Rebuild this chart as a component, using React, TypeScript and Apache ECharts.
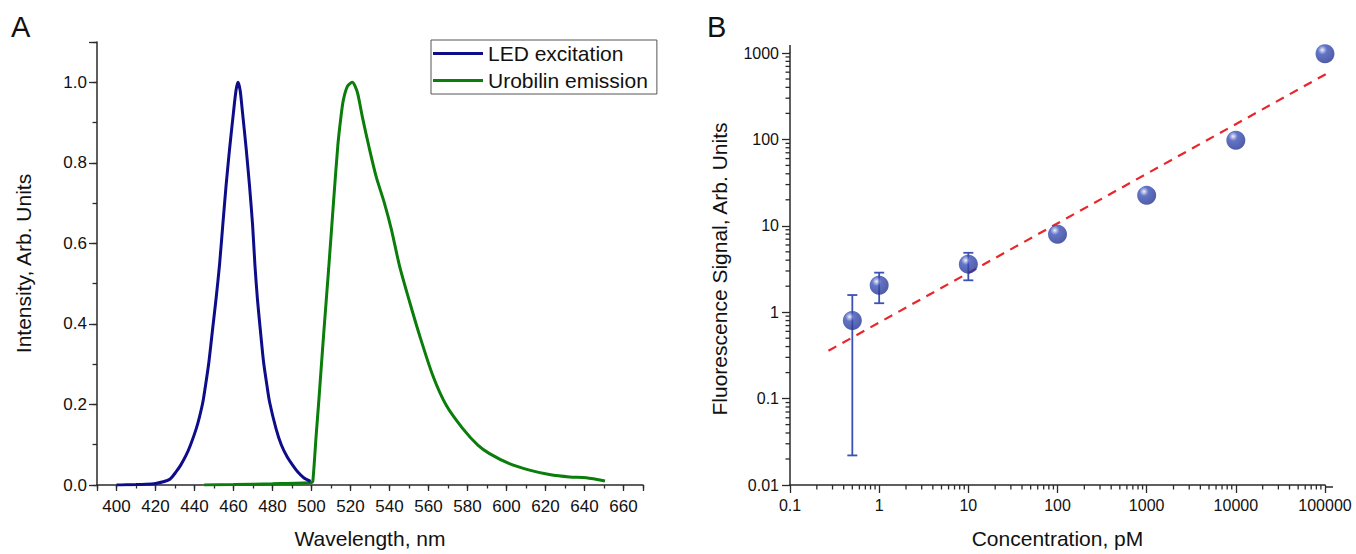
import React, { useEffect, useRef } from "react";
import * as echarts from "echarts";

// ---- Panel A data ----
const ledWavelength = [400, 405, 410, 415, 420, 424, 427.5, 430.6, 433, 435.7, 438, 440.9, 442.6, 444.3, 445.9, 447.4, 449.3, 451.0, 452.8, 454.5, 456.2, 458, 460, 461.3, 462.3, 463.4, 464.6, 466.5, 468.2, 469.8, 471, 472.3, 473.7, 475.4, 477, 478.5, 481.8, 484.5, 487.5, 490.5, 493, 496, 499.5];
const ledIntensity = [0, 0.0005, 0.001, 0.002, 0.004, 0.008, 0.015, 0.033, 0.05, 0.074, 0.1, 0.14, 0.17, 0.206, 0.255, 0.306, 0.388, 0.46, 0.545, 0.645, 0.744, 0.835, 0.926, 0.98, 1.0, 0.98, 0.926, 0.835, 0.744, 0.645, 0.545, 0.46, 0.388, 0.306, 0.252, 0.206, 0.14, 0.1, 0.07, 0.048, 0.032, 0.018, 0.009];

const uroWavelength = [445, 460, 480, 500, 500.7, 502.4, 503.7, 506.2, 508.8, 511.3, 513.5, 515, 516.3, 518.4, 520.9, 522.4, 523.8, 526.3, 529.7, 533.2, 537.2, 540.9, 545.1, 550.3, 555.4, 562.2, 569.1, 577.6, 585.3, 591.3, 601.5, 611.8, 622, 632.3, 640.9, 650.5];
const uroIntensity = [0, 0.001, 0.003, 0.006, 0.01, 0.124, 0.206, 0.372, 0.537, 0.703, 0.843, 0.91, 0.955, 0.99, 1.0, 0.99, 0.97, 0.909, 0.835, 0.765, 0.703, 0.636, 0.545, 0.455, 0.372, 0.272, 0.198, 0.14, 0.099, 0.078, 0.053, 0.037, 0.026, 0.02, 0.018, 0.01];

// ---- Panel B data ----
const concentration = [0.5, 1, 10, 100, 1000, 10000, 100000];
const signal = [0.8, 2.05, 3.6, 8.0, 22.5, 98, 980];
const signalLow = [0.022, 1.27, 2.34, 8.0, 22.5, 98, 980];
const signalHigh = [1.58, 2.87, 4.87, 8.0, 22.5, 98, 980];
const fitX = [0.27, 106000];
const fitY = [0.358, 582];

// minor log ticks (multipliers within each decade)
const minorMultipliers = [2, 3, 4, 5, 6, 7, 8, 9];
const xDecades = [0.1, 1, 10, 100, 1000, 10000];
const yDecades = [0.01, 0.1, 1, 10, 100];

const legendNames = ["LED excitation", "Urobilin emission"];

const FONT = "'Liberation Sans', Arial, Helvetica, sans-serif";
const AXIS = "#2a2a2a";
const TXT = "#111111";
const MINOR_LOG = 4.5;

function logLabel(v: number) {
  return String(Number(v.toPrecision(4)));
}

export default function App() {
  const ref = useRef<HTMLDivElement>(null);
  useEffect(() => {
    if (!ref.current) return;
    const chart = echarts.init(ref.current, undefined, { renderer: "svg" });

    const ledData = ledWavelength.map((w, i) => [w, ledIntensity[i]]);
    const uroData = uroWavelength.map((w, i) => [w, uroIntensity[i]]);
    const pts = concentration.map((c, i) => [c, signal[i]]);
    const errs = concentration.map((c, i) => [c, signal[i], signalLow[i], signalHigh[i]]);
    const fit = fitX.map((x, i) => [x, fitY[i]]);
    const xMinor: number[] = [];
    xDecades.forEach((d) => minorMultipliers.forEach((m) => xMinor.push(Number((d * m).toPrecision(3)))));
    const yMinor: number[] = [];
    yDecades.forEach((d) => minorMultipliers.forEach((m) => yMinor.push(Number((d * m).toPrecision(3)))));

    const tickStyle = { color: AXIS, width: 1.3 };

    const baseGraphic: any[] = [
      { type: "text", left: 11, top: 12, style: { text: "A", fontSize: 29, fill: "#111", fontFamily: FONT } },
      { type: "text", left: 707, top: 12, style: { text: "B", fontSize: 29, fill: "#111", fontFamily: FONT } },
      { type: "line", shape: { x1: 790, y1: 45, x2: 790, y2: 53 }, style: { stroke: AXIS, lineWidth: 1.5 } },
      { type: "line", shape: { x1: 1325, y1: 487, x2: 1333, y2: 487 }, style: { stroke: AXIS, lineWidth: 1.5 } },
    ];

    const option: any = {
      animation: false,
      backgroundColor: "#ffffff",
      textStyle: { fontFamily: FONT },
      grid: [
        { left: 97, top: 42, width: 546, height: 444 },
        { left: 790, top: 53, width: 535, height: 434 },
      ],
      legend: {
        data: legendNames,
        left: 431,
        top: 40,
        orient: "vertical",
        icon: "rect",
        itemWidth: 50,
        itemHeight: 3,
        itemGap: 6,
        padding: [3, 9, 3, 2],
        borderColor: "#555",
        borderWidth: 1,
        selectedMode: false,
        textStyle: { fontSize: 21, color: TXT, fontFamily: FONT },
      },
      xAxis: [
        {
          gridIndex: 0,
          type: "value",
          position: "bottom",
          min: 390,
          max: 670,
          interval: 10,
          axisLine: { lineStyle: { color: AXIS, width: 1.5 } },
          axisTick: { length: 3.5, lineStyle: tickStyle },
          axisLabel: {
            fontSize: 17,
            color: TXT,
            margin: 13,
            formatter: (v: number) => (Math.round(v) % 20 === 0 ? String(v) : ""),
          },
          splitLine: { show: false },
          name: "Wavelength, nm",
          nameLocation: "middle",
          nameGap: 43,
          nameTextStyle: { fontSize: 21, color: TXT },
        },
        {
          gridIndex: 0,
          type: "value",
          position: "bottom",
          min: 390,
          max: 670,
          splitNumber: 14,
          axisLine: { show: false },
          axisTick: { length: 6, lineStyle: tickStyle },
          axisLabel: { show: false },
          splitLine: { show: false },
        },
        {
          gridIndex: 1,
          type: "log",
          logBase: 10,
          position: "bottom",
          min: 0.1,
          max: 100000,
          axisLine: { lineStyle: { color: AXIS, width: 1.5 } },
          axisTick: { length: 8, lineStyle: tickStyle },
          axisLabel: { fontSize: 16, color: TXT, margin: 12, formatter: logLabel },
          splitLine: { show: false },
          name: "Concentration, pM",
          nameLocation: "middle",
          nameGap: 43,
          nameTextStyle: { fontSize: 21, color: TXT },
        },
      ],
      yAxis: [
        {
          gridIndex: 0,
          type: "value",
          position: "left",
          min: 0,
          max: 1.1,
          interval: 0.1,
          axisLine: { show: true, lineStyle: { color: AXIS, width: 1.5 } },
          axisTick: { show: true, length: 4.5, lineStyle: tickStyle },
          axisLabel: {
            fontSize: 17,
            color: TXT,
            margin: 10,
            formatter: (v: number) => {
              const k = Math.round(v * 10);
              return k % 2 === 0 && k <= 10 ? (k / 10).toFixed(1) : "";
            },
          },
          splitLine: { show: false },
          name: "Intensity, Arb. Units",
          nameLocation: "middle",
          nameGap: 63,
          nameTextStyle: { fontSize: 21, color: TXT },
        },
        {
          gridIndex: 0,
          type: "value",
          position: "left",
          min: 0,
          max: 1.1,
          interval: 0.2,
          axisLine: { show: false },
          axisTick: { show: true, length: 8, lineStyle: tickStyle },
          axisLabel: { show: false },
          splitLine: { show: false },
        },
        {
          gridIndex: 1,
          type: "log",
          logBase: 10,
          position: "left",
          min: 0.01,
          max: 1000,
          axisLine: { show: true, lineStyle: { color: AXIS, width: 1.5 } },
          axisTick: { show: true, length: 8, lineStyle: tickStyle },
          axisLabel: { fontSize: 16, color: TXT, margin: 11, formatter: logLabel },
          splitLine: { show: false },
          name: "Fluorescence Signal, Arb. Units",
          nameLocation: "middle",
          nameGap: 60,
          nameTextStyle: { fontSize: 21, color: TXT },
        },
      ],
      series: [
        {
          name: "LED excitation",
          type: "line",
          xAxisIndex: 0,
          yAxisIndex: 0,
          data: ledData,
          symbol: "none",
          smooth: 0.25,
          lineStyle: { color: "#0d0d8a", width: 3 },
          itemStyle: { color: "#0d0d8a" },
          z: 3,
        },
        {
          name: "Urobilin emission",
          type: "line",
          xAxisIndex: 0,
          yAxisIndex: 0,
          data: uroData,
          symbol: "none",
          smooth: 0.25,
          lineStyle: { color: "#0a7d0a", width: 3 },
          itemStyle: { color: "#0a7d0a" },
          z: 2,
        },
        {
          name: "fit",
          type: "line",
          xAxisIndex: 2,
          yAxisIndex: 2,
          data: fit,
          symbol: "none",
          clip: false,
          lineStyle: { color: "#e8262b", width: 2.2, type: [9, 7] },
          z: 2,
        },
        {
          name: "err",
          type: "custom",
          xAxisIndex: 2,
          yAxisIndex: 2,
          data: errs,
          encode: { x: 0, y: [2, 3] },
          z: 3,
          renderItem: (params: any, api: any) => {
            const x = api.value(0);
            if (api.value(3) <= api.value(2)) return null;
            const lo = api.coord([x, api.value(2)]);
            const hi = api.coord([x, api.value(3)]);
            const cap = 5;
            const style = { stroke: "#3b52b4", lineWidth: 1.8 };
            return {
              type: "group",
              children: [
                { type: "line", shape: { x1: lo[0], y1: lo[1], x2: hi[0], y2: hi[1] }, style },
                { type: "line", shape: { x1: lo[0] - cap, y1: lo[1], x2: lo[0] + cap, y2: lo[1] }, style: { ...style } },
                { type: "line", shape: { x1: hi[0] - cap, y1: hi[1], x2: hi[0] + cap, y2: hi[1] }, style: { ...style } },
              ],
            };
          },
        },
        {
          name: "signal",
          type: "scatter",
          xAxisIndex: 2,
          yAxisIndex: 2,
          data: pts,
          symbol: "circle",
          symbolSize: 19,
          z: 5,
          itemStyle: {
            color: {
              type: "radial",
              x: 0.36,
              y: 0.3,
              r: 0.75,
              colorStops: [
                { offset: 0, color: "#f2f4fc" },
                { offset: 0.12, color: "#a3afe3" },
                { offset: 0.32, color: "#3d51b6" },
                { offset: 1, color: "#22338f" },
              ],
            },
          },
        },
      ],
      graphic: baseGraphic,
    };

    chart.setOption(option);

    // minor log ticks placed through the axes' own scales
    const tickEls: any[] = [];
    const yBottom = chart.convertToPixel({ yAxisIndex: 2 }, 0.01) as number;
    const xLeft = chart.convertToPixel({ xAxisIndex: 2 }, 0.1) as number;
    xMinor.forEach((v) => {
      const px = chart.convertToPixel({ xAxisIndex: 2 }, v) as number;
      if (typeof px === "number" && isFinite(px) && typeof yBottom === "number") {
        tickEls.push({
          type: "line",
          silent: true,
          shape: { x1: px, y1: yBottom, x2: px, y2: yBottom + MINOR_LOG },
          style: { stroke: AXIS, lineWidth: 1.3 },
        });
      }
    });
    yMinor.forEach((v) => {
      const py = chart.convertToPixel({ yAxisIndex: 2 }, v) as number;
      if (typeof py === "number" && isFinite(py) && typeof xLeft === "number") {
        tickEls.push({
          type: "line",
          silent: true,
          shape: { x1: xLeft - MINOR_LOG, y1: py, x2: xLeft, y2: py },
          style: { stroke: AXIS, lineWidth: 1.3 },
        });
      }
    });
    chart.setOption({ graphic: [...baseGraphic, ...tickEls] });

    return () => chart.dispose();
  }, []);

  return (
    <div
      ref={ref}
      style={{ position: "fixed", left: 0, top: 0, width: 1356, height: 554, background: "#fff" }}
    />
  );
}
